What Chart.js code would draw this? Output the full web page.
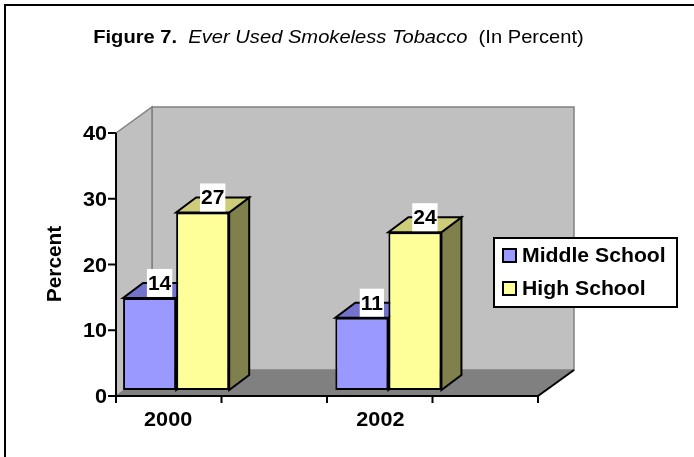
<!DOCTYPE html>
<html>
<head>
<meta charset="utf-8">
<script src="https://cdn.jsdelivr.net/npm/chart.js@4"></script>
<style>
  html, body { margin: 0; padding: 0; background: #fff; }
  canvas { display: block; }
</style>
</head>
<body>
<canvas id="chart" width="694" height="457"></canvas>
<script>
// Ever used smokeless tobacco, in percent
var annees = ['2000', '2002'];
var collegeValeurs = [14, 11];   // Middle School
var lyceeValeurs = [27, 24];     // High School
var graduationsY = [0, 10, 20, 30, 40];

var FONT = "'Liberation Sans', Arial, sans-serif";

// texte avec un petit étirement horizontal (le modèle est légèrement élargi)
function texte(ctx, str, x, y, font, align, sx) {
  ctx.save();
  ctx.font = font;
  ctx.textBaseline = 'alphabetic';
  var w = ctx.measureText(str).width * sx;
  var x0 = align === 'center' ? x - w / 2 : (align === 'right' ? x - w : x);
  ctx.translate(x0, y);
  ctx.scale(sx, 1);
  ctx.textAlign = 'left';
  ctx.fillText(str, 0, 0);
  ctx.restore();
  return w;
}

function poly(ctx, pts, fill, stroke, lw) {
  ctx.beginPath();
  ctx.moveTo(pts[0][0], pts[0][1]);
  for (var i = 1; i < pts.length; i++) ctx.lineTo(pts[i][0], pts[i][1]);
  ctx.closePath();
  if (fill) { ctx.fillStyle = fill; ctx.fill(); }
  if (stroke) { ctx.strokeStyle = stroke; ctx.lineWidth = lw || 1; ctx.stroke(); }
}

// couleurs des faces 3D (dessus, côté)
var faces = [
  { top: '#7373CC', side: '#6666AA' },
  { top: '#CCCC7A', side: '#80804D' }
];

var decor3d = {
  id: 'decor3d',
  beforeDatasetsDraw: function (chart) {
    var ctx = chart.ctx;
    var y = chart.scales.y;
    var x = chart.scales.x;
    // plan avant : décalé du plan des barres
    var fdx = -8, fdy = 6;
    var L = 116, R = 538;
    var y0 = y.getPixelForValue(0) + fdy;
    var y40 = y.getPixelForValue(40) + fdy;
    var wx = 36, wy = -26;

    ctx.save();
    // cadre
    ctx.strokeStyle = '#000';
    ctx.lineWidth = 2;
    ctx.beginPath();
    ctx.moveTo(5, 457); ctx.lineTo(5, 5); ctx.lineTo(694, 5);
    ctx.stroke();

    // murs
    poly(ctx, [[L + wx, y40 + wy], [R + wx, y40 + wy], [R + wx, y0 + wy], [L + wx, y0 + wy]], '#C0C0C0', '#808080', 1.5);
    poly(ctx, [[L, y40], [L + wx, y40 + wy], [L + wx, y0 + wy], [L, y0]], '#C0C0C0', '#808080', 1.5);
    // sol
    poly(ctx, [[L, y0], [L + wx, y0 + wy], [R + wx, y0 + wy], [R, y0]], '#808080', null);
    ctx.strokeStyle = '#000';
    ctx.lineWidth = 2;
    ctx.beginPath();
    ctx.moveTo(R, y0); ctx.lineTo(R + wx, y0 + wy);
    ctx.stroke();

    // axe Y
    ctx.beginPath();
    ctx.moveTo(L, y40); ctx.lineTo(L, y0);
    ctx.moveTo(L, y0); ctx.lineTo(R, y0);
    graduationsY.forEach(function (v) {
      var py = y.getPixelForValue(v) + fdy;
      ctx.moveTo(L - 8, py); ctx.lineTo(L, py);
    });
    for (var k = 0; k <= 4; k++) {
      var px = L + (R - L) * k / 4;
      ctx.moveTo(px, y0); ctx.lineTo(px, y0 + 7);
    }
    ctx.stroke();

    ctx.fillStyle = '#000';
    graduationsY.forEach(function (v) {
      var py = y.getPixelForValue(v) + fdy;
      texte(ctx, String(v), L - 9, py + 7, 'bold 20px ' + FONT, 'right', 1.08);
    });
    annees.forEach(function (a, i) {
      texte(ctx, a, x.getPixelForValue(i) + fdx, 426, 'bold 20px ' + FONT, 'center', 1.08);
    });

    // titre de l'axe
    ctx.save();
    ctx.translate(61, 264);
    ctx.rotate(-Math.PI / 2);
    texte(ctx, 'Percent', 0, 0, 'bold 20px ' + FONT, 'center', 1.04);
    ctx.restore();

    // faces du dessus et du côté des barres
    var bdx = 20, bdy = -15;
    chart.data.datasets.forEach(function (ds, di) {
      chart.getDatasetMeta(di).data.forEach(function (bar) {
        var x0 = bar.x - bar.width / 2, x1 = bar.x + bar.width / 2;
        var t = bar.y, b = bar.base;
        poly(ctx, [[x1, t], [x1 + bdx, t + bdy], [x1 + bdx, b + bdy], [x1, b]], faces[di].side, '#000', 2);
        poly(ctx, [[x0, t], [x1, t], [x1 + bdx, t + bdy], [x0 + bdx, t + bdy]], faces[di].top, '#000', 2);
      });
    });
    ctx.restore();
  },
  afterDatasetsDraw: function (chart) {
    var ctx = chart.ctx;
    ctx.save();
    // étiquettes de valeurs
    chart.data.datasets.forEach(function (ds, di) {
      chart.getDatasetMeta(di).data.forEach(function (bar, j) {
        var str = String(ds.data[j]);
        ctx.font = 'bold 20px ' + FONT;
        var w = ctx.measureText(str).width * 1.05 + 2;
        var cx = bar.x + 10;
        var bot = bar.y - 1;
        ctx.fillStyle = '#fff';
        ctx.fillRect(cx - w / 2, bot - 28, w, 28);
        ctx.fillStyle = '#000';
        texte(ctx, str, cx, bot - 7, 'bold 20px ' + FONT, 'center', 1.05);
      });
    });

    // légende
    ctx.fillStyle = '#fff';
    ctx.fillRect(494, 238, 183, 69);
    ctx.strokeStyle = '#000';
    ctx.lineWidth = 2;
    ctx.strokeRect(494, 238, 183, 69);
    var rows = [262, 295];
    chart.data.datasets.forEach(function (ds, di) {
      ctx.fillStyle = ds.backgroundColor;
      ctx.fillRect(503, rows[di] - 13, 13, 13);
      ctx.strokeStyle = '#000';
      ctx.lineWidth = 2;
      ctx.strokeRect(503, rows[di] - 13, 13, 13);
      ctx.fillStyle = '#000';
      texte(ctx, ds.label, 522, rows[di], 'bold 20px ' + FONT, 'left', 1.06);
    });

    // titre en trois styles
    var parts = [
      ['Figure 7.', 'bold 19px ' + FONT],
      ['  ', '19px ' + FONT],
      ['Ever Used Smokeless Tobacco', 'italic 19px ' + FONT],
      ['  (In Percent)', '19px ' + FONT]
    ];
    var sx = 1.06, total = 0;
    parts.forEach(function (p) { ctx.font = p[1]; total += ctx.measureText(p[0]).width * sx; });
    var px = 338.5 - total / 2;
    ctx.fillStyle = '#000';
    parts.forEach(function (p) { px += texte(ctx, p[0], px, 43, p[1], 'left', sx); });
    ctx.restore();
  }
};

new Chart(document.getElementById('chart'), {
  type: 'bar',
  data: {
    labels: annees,
    datasets: [
      { label: 'Middle School', data: collegeValeurs, backgroundColor: '#9999FF', borderColor: '#000', borderWidth: 2, borderSkipped: false },
      { label: 'High School', data: lyceeValeurs, backgroundColor: '#FFFF99', borderColor: '#000', borderWidth: 2, borderSkipped: false }
    ]
  },
  options: {
    responsive: false,
    animation: false,
    devicePixelRatio: 1,
    layout: { padding: { left: 70, right: 199.5, top: 127, bottom: 67 } },
    datasets: { bar: { categoryPercentage: 0.5, barPercentage: 1 } },
    scales: {
      x: { display: false },
      y: { display: false, min: 0, max: 40 }
    },
    plugins: {
      legend: { display: false },
      title: { display: false },
      tooltip: { enabled: false }
    }
  },
  plugins: [decor3d]
});
</script>
</body>
</html>
